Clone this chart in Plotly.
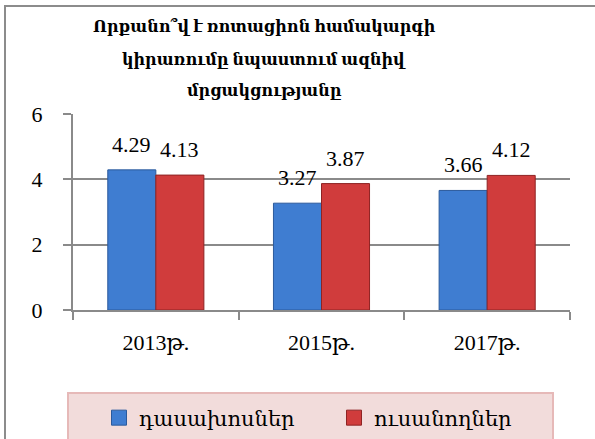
import plotly.graph_objects as go

categories = ["2013թ.", "2015թ.", "2017թ."]
lecturers = [4.29, 3.27, 3.66]
students = [4.13, 3.87, 4.12]
series_names = ["դասախոսներ", "ուսանողներ"]
title_lines = ["Որքանո՞վ է ռոտացիոն համակարգի", "կիրառումը նպաստում ազնիվ", "մրցակցությանը"]
y_ticks = [0, 2, 4, 6]

FONT = "Liberation Serif, DejaVu Serif, serif"
GRID = "#8a8a8a"
BLUE, BLUE_EDGE = "#3f7dd1", "#2b5a9c"
RED, RED_EDGE = "#d03c3c", "#8e2323"

# pixel geometry helpers (plot area: x 73..570, y 114..310)
L, R, T, B = 73, 570, 114, 310
W, H = R - L, B - T
def px(x):
    return (x - L) / W
def py(y):
    return (B - y) / H

fig = go.Figure()
for vals, name, col, edge in [(lecturers, series_names[0], BLUE, BLUE_EDGE),
                              (students, series_names[1], RED, RED_EDGE)]:
    fig.add_trace(go.Bar(
        x=categories, y=vals, name=name, showlegend=False,
        marker=dict(color=col, line=dict(color=edge, width=1)),
    ))

# value labels above each bar
for vals, shift in [(lecturers, -24), (students, 24)]:
    for c, v in zip(categories, vals):
        fig.add_annotation(x=c, y=v, xref="x", yref="y", text=f"{v:.2f}",
                           showarrow=False, xshift=shift, yshift=11, yanchor="bottom",
                           font=dict(family=FONT, size=22, color="#000"))

# legend entries with larger square swatches, each in its own legend
for name, col, edge, lg in [(series_names[0], BLUE, BLUE_EDGE, "legend"),
                            (series_names[1], RED, RED_EDGE, "legend2")]:
    fig.add_trace(go.Scatter(
        x=[None], y=[None], mode="markers", name=name, legend=lg,
        marker=dict(symbol="square", size=15, color=col, line=dict(color=edge, width=1)),
    ))

# outer frame (left and top edges visible)
fig.add_shape(type="path", xref="paper", yref="paper",
              path=f"M {px(5)} {py(460)} L {px(5)} {py(6)} L {px(620)} {py(6)}",
              line=dict(color="#8c8c8c", width=2), layer="below")
# legend box
fig.add_shape(type="rect", xref="paper", yref="paper",
              x0=px(68), x1=px(553), y0=py(460), y1=py(393),
              fillcolor="#f2dcdb", line=dict(color="#e6b9b8", width=2), layer="below")

for line_text, yc in zip(title_lines, [27, 60, 91]):
    fig.add_annotation(text=f"<b>{line_text}</b>", xref="paper", yref="paper",
                       x=px(264), y=py(yc), xanchor="center", yanchor="middle",
                       showarrow=False, font=dict(family=FONT, size=16, color="#000"))

legend_common = dict(orientation="h", yanchor="middle", xanchor="left",
                     bgcolor="rgba(0,0,0,0)", font=dict(family=FONT, size=21, color="#000"),
                     itemwidth=30)

fig.update_layout(
    width=595, height=439,
    margin=dict(l=L, r=595 - R, t=T, b=439 - B, autoexpand=False),
    paper_bgcolor="white", plot_bgcolor="white",
    barmode="group", bargap=0.42, bargroupgap=0,
    showlegend=True,
    legend=dict(x=px(99), y=py(418), **legend_common),
    legend2=dict(x=px(334), y=py(418), **legend_common),
    xaxis=dict(type="category", showline=True, linecolor=GRID, linewidth=2,
               ticks="outside", tickson="boundaries", ticklen=8, tickcolor=GRID, tickwidth=2,
               tickfont=dict(family=FONT, size=22, color="#000"), ticklabelstandoff=12,
               showgrid=False),
    yaxis=dict(range=[0, 6], tickvals=y_ticks, showline=True, linecolor=GRID, linewidth=2,
               ticks="outside", ticklen=8, tickcolor=GRID, tickwidth=2,
               showgrid=True, gridcolor=GRID, gridwidth=2, zeroline=False,
               tickfont=dict(family=FONT, size=22, color="#000"), ticklabelstandoff=16),
)

fig.write_html("out.html", config={"displayModeBar": False},
               post_script="document.body.style.margin='0';")
